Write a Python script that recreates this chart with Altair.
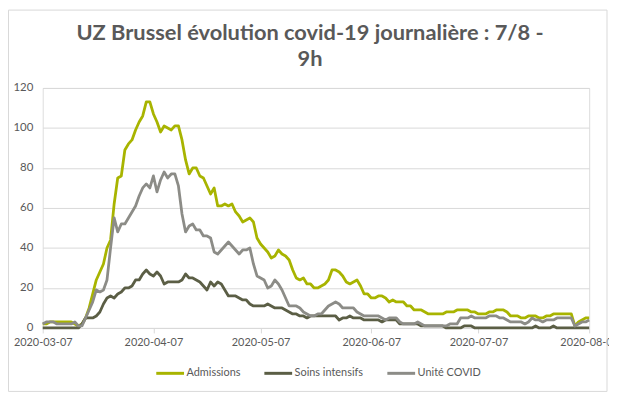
import altair as alt
import pandas as pd

start_date = "2020-03-07"
series_names = ["Admissions", "Soins intensifs", "Unité COVID"]
series_colors = ["#A8B400", "#5B5E45", "#8C8C87"]
title_lines = ["UZ Brussel évolution covid-19 journalière : 7/8 -", "9h"]
y_ticks = [0, 20, 40, 60, 80, 100, 120]
x_tick_dates = [(2020, 3, 7), (2020, 4, 7), (2020, 5, 7), (2020, 6, 7), (2020, 7, 7), (2020, 8, 7)]

admissions = [
    2, 2, 3, 3, 3, 3, 3, 3, 3, 2,
    1, 2, 5, 10, 17, 24, 28, 32, 40, 44,
    62, 75, 76, 89, 92, 94, 99, 103, 106, 113,
    113, 107, 103, 98, 101, 100, 99, 101, 101, 94,
    84, 77, 80, 80, 76, 75, 71, 67, 70, 61,
    61, 62, 61, 62, 58, 56, 53, 54, 55, 53,
    45, 42, 40, 38, 35, 36, 39, 37, 36, 34,
    29, 25, 24, 25, 22, 22, 20, 20, 21, 22,
    24, 29, 29, 28, 26, 23, 22, 23, 24, 21,
    17, 17, 15, 15, 16, 16, 15, 13, 14, 13,
    13, 13, 11, 11, 9, 9, 9, 8, 7, 7,
    7, 7, 7, 8, 8, 8, 9, 9, 9, 9,
    8, 8, 7, 7, 7, 8, 8, 9, 9, 9,
    8, 6, 6, 6, 5, 5, 6, 6, 6, 5,
    5, 6, 6, 7, 7, 7, 7, 7, 7, 1,
    3, 4, 5, 5,
]

soins_intensifs = [
    0, 0, 0, 0, 0, 0, 0, 0, 0, 0,
    0, 2, 5, 5, 5, 6, 8, 12, 15, 16,
    15, 17, 18, 20, 20, 21, 24, 24, 27, 29,
    27, 26, 28, 26, 22, 23, 23, 23, 23, 24,
    27, 25, 25, 24, 23, 21, 19, 23, 21, 23,
    22, 19, 16, 16, 16, 15, 14, 14, 12, 11,
    11, 11, 11, 12, 11, 10, 10, 10, 9, 8,
    7, 7, 6, 6, 5, 6, 6, 6, 6, 6,
    6, 6, 6, 4, 5, 5, 6, 5, 5, 5,
    4, 4, 4, 4, 4, 3, 4, 4, 4, 4,
    2, 2, 2, 2, 2, 2, 1, 1, 1, 1,
    1, 1, 1, 0, 0, 0, 0, 0, 1, 1,
    1, 0, 0, 0, 0, 0, 0, 0, 0, 0,
    0, 0, 0, 0, 0, 0, 0, 0, 1, 0,
    0, 0, 0, 1, 0, 0, 0, 0, 0, 0,
    0, 0, 0, 0,
]

unite_covid = [
    2, 3, 3, 3, 2, 2, 2, 2, 2, 3,
    1, 1, 5, 9, 13, 19, 18, 19, 24, 40,
    55, 48, 52, 52, 55, 58, 61, 66, 70, 72,
    70, 76, 68, 74, 78, 75, 77, 77, 71, 57,
    48, 51, 52, 49, 49, 46, 46, 45, 38, 37,
    39, 41, 43, 41, 39, 37, 39, 39, 40, 32,
    26, 25, 24, 20, 21, 24, 22, 19, 15, 11,
    11, 11, 10, 8, 7, 6, 6, 7, 7, 9,
    11, 12, 13, 12, 10, 10, 10, 10, 8, 7,
    6, 6, 6, 6, 6, 5, 4, 5, 5, 5,
    3, 2, 2, 2, 2, 3, 2, 1, 1, 1,
    1, 1, 1, 1, 2, 2, 2, 5, 5, 5,
    6, 5, 5, 5, 5, 6, 6, 6, 5, 5,
    4, 3, 3, 3, 3, 2, 3, 5, 4, 4,
    3, 4, 4, 4, 5, 5, 5, 5, 5, 1,
    2, 3, 3, 4,
]

dates = pd.date_range(start_date, periods=len(admissions), freq="D").strftime("%Y-%m-%d")
rows = []
for name, vals in zip(series_names, [admissions, soins_intensifs, unite_covid]):
    for d, v in zip(dates, vals):
        rows.append({"date": d, "value": v, "serie": name})
df = pd.DataFrame(rows)

FONT = "Lato"
TEXT = "#595959"
GRID = "#D9D9D9"

def dt(t):
    return alt.DateTime(year=t[0], month=t[1], date=t[2], utc=True)

x_enc = alt.X(
    "date:T",
    scale=alt.Scale(type="utc", domain=[dt(x_tick_dates[0]), dt(x_tick_dates[-1])]),
    axis=alt.Axis(
        values=[dt(t) for t in x_tick_dates],
        labelExpr="utcFormat(datum.value, '%Y-%m-%d')",
        title=None, grid=False, domainColor=GRID, tickColor=GRID, tickSize=5,
        labelFont=FONT, labelFontSize=11, labelColor=TEXT, labelPadding=4,
        labelOverlap=False, labelFlush=False, labelBound=False,
    ),
)
y_enc = alt.Y(
    "value:Q",
    scale=alt.Scale(domain=[0, 120], nice=False),
    axis=alt.Axis(
        values=y_ticks, title=None, domain=False, ticks=False, grid=True,
        gridColor=GRID, gridWidth=1, labelFont=FONT, labelFontSize=11.5,
        labelColor=TEXT, labelPadding=10,
    ),
)

lines = alt.Chart(df).mark_line(strokeWidth=2.8, strokeJoin="round").encode(
    x=x_enc,
    y=y_enc,
    color=alt.Color(
        "serie:N",
        sort=series_names,
        scale=alt.Scale(domain=series_names, range=series_colors),
        legend=alt.Legend(
            orient="none", legendX=113, legendY=272, direction="horizontal",
            title=None, symbolType="stroke", symbolSize=784, symbolStrokeWidth=3,
            labelFont=FONT, labelFontSize=11, labelColor=TEXT, labelOffset=1,
            columnPadding=17,
        ),
    ),
)

frame = alt.Chart(pd.DataFrame({"k": [0]})).mark_rect(
    fill=None, fillOpacity=0, stroke=GRID, strokeWidth=1
).encode(
    x=alt.value(-34.5), x2=alt.value(569), y=alt.value(-78.5), y2=alt.value(306)
)

chart = alt.layer(frame, lines).properties(
    width=551,
    height=242,
    autosize=alt.AutoSizeParams(type="none"),
    padding={"left": 35, "top": 79, "right": 20, "bottom": 67},
    title=alt.Title(
        text=title_lines, font=FONT, fontSize=22, fontWeight="bold", color=TEXT,
        anchor="middle", offset=0, dy=62, dx=-6, lineHeight=26,
    ),
).configure_view(stroke=None).configure(background="white")

chart.save("out.html", embed_options={"renderer": "svg", "actions": False})
